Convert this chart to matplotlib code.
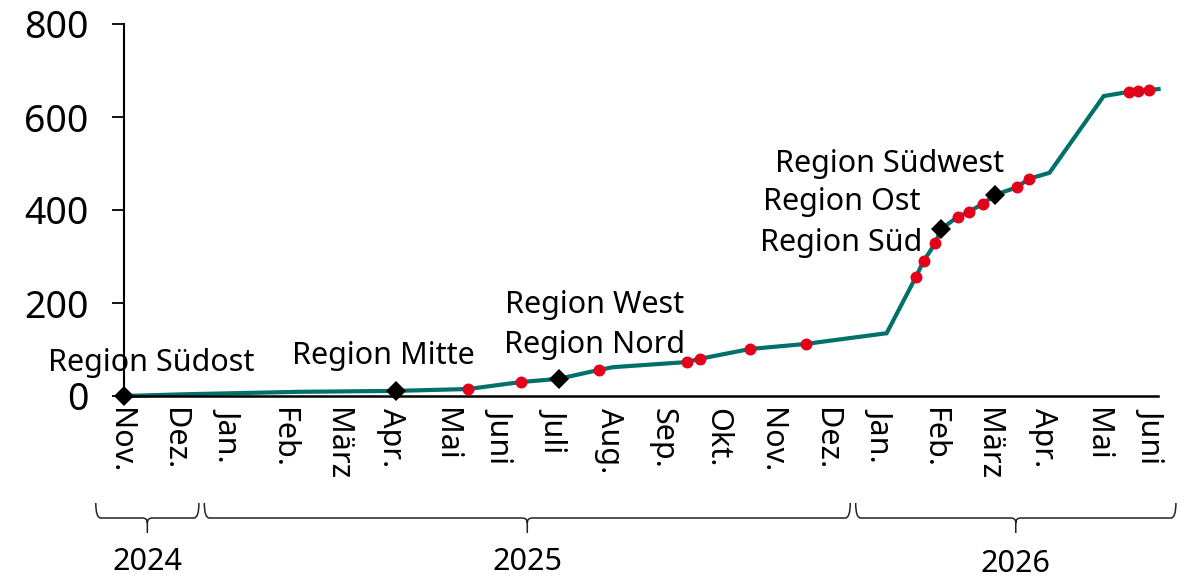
import matplotlib
matplotlib.use("Agg")
import matplotlib.pyplot as plt
from matplotlib.path import Path
from matplotlib.patches import PathPatch
import matplotlib.transforms as mtransforms

plt.rcParams['font.family'] = ['Noto Sans', 'DejaVu Sans']

# ---------------- data ----------------
month_labels = ["Nov.", "Dez.", "Jan.", "Feb.", "März", "Apr.", "Mai", "Juni",
                "Juli", "Aug.", "Sep.", "Okt.", "Nov.", "Dez.", "Jan.", "Feb.",
                "März", "Apr.", "Mai", "Juni"]
years = ["2024", "2025", "2026"]
year_month_counts = [2, 12, 6]

# x = months since start of Nov 2024
line_x = [0.0, 1.22, 3.24, 5.01, 6.34, 7.31, 8.01, 8.75, 9.01, 10.37, 10.61,
          11.53, 12.56, 14.05, 14.59, 14.73, 14.95, 15.05, 15.36, 15.56, 15.82,
          16.04, 16.45, 16.67, 17.05, 18.05, 18.51, 18.69, 18.88, 19.06]
line_y = [0, 4, 9, 11, 15, 30, 37, 56, 62, 73, 80,
          101, 112, 135, 256, 290, 329, 359, 385, 396, 413,
          432, 449, 467, 480, 645, 654, 656, 658, 660]

red_x = [6.34, 7.31, 8.75, 10.37, 10.61, 11.53, 12.56, 14.59, 14.73, 14.95,
         15.36, 15.56, 15.82, 16.45, 16.67, 18.51, 18.69, 18.88]
red_y = [15, 30, 56, 73, 80, 101, 112, 256, 290, 329,
         385, 396, 413, 449, 467, 654, 656, 658]

dia_x = [0.0, 5.01, 8.01, 15.05, 16.04]
dia_y = [0, 11, 37, 359, 432]

region_labels = ["Region Südost", "Region Mitte", "Region West", "Region Nord",
                 "Region Südwest", "Region Ost", "Region Süd"]
# label anchor positions (center, baseline) in data coords
label_pos_x = [0.51, 4.77, 8.67, 8.67, 14.11, 13.22, 13.21]
label_pos_y = [54, 69, 178, 92, 482, 400, 312]

y_ticks = [0, 200, 400, 600, 800]

# ---------------- figure ----------------
W, H = 1188, 580
fig = plt.figure(figsize=(W / 100, H / 100), dpi=100)
ax = fig.add_axes([124 / W, 184 / H, 1034 / W, 372 / H])

TEAL = "#00716A"
RED = "#E3001B"

ax.plot(line_x, line_y, color=TEAL, lw=3.0, zorder=2, clip_on=False,
        solid_joinstyle="miter")
ax.plot(red_x, red_y, "o", color=RED, ms=8.6, mew=0, zorder=3, clip_on=False)
ax.plot(dia_x, dia_y, "D", color="black", ms=9.8, mew=0, zorder=4, clip_on=False)

for t, x, y in zip(region_labels, label_pos_x, label_pos_y):
    ax.text(x, y, t, ha="center", va="baseline", fontsize=22, color="black",
            clip_on=False, zorder=5)

ax.set_xlim(0, 19.05)
ax.set_ylim(0, 800)

ax.set_yticks(y_ticks)
ax.tick_params(axis="y", direction="out", length=8.6, width=1.3,
               labelsize=27, pad=17, color="black")
ax.set_xticks(range(len(month_labels)))
ax.set_xticklabels(month_labels, rotation=-90, fontsize=22)
ax.tick_params(axis="x", length=0, pad=9)

offset = mtransforms.ScaledTranslation(-4 / 100, 0, fig.dpi_scale_trans)
for lab in ax.get_xticklabels():
    lab.set_transform(lab.get_transform() + offset)

for s in ["top", "right"]:
    ax.spines[s].set_visible(False)
ax.spines["left"].set_linewidth(1.5)
ax.spines["bottom"].set_linewidth(1.8)

# ---------------- year braces ----------------
fig.canvas.draw()
to_px = lambda m: ax.transData.transform((m, 0))[0]

y_top, y_line, y_tip = H - 503, H - 518, H - 533
r = 5
year_baseline_px = [570, 570, 572]
i0 = 0
for yr, cnt, ybl in zip(years, year_month_counts, year_baseline_px):
    i1 = i0 + cnt - 1
    x0 = to_px(i0 - 0.5 + 0.05 - 0.07)
    x1 = to_px(i1 + 0.5 - 0.05 - 0.07)
    xc = (x0 + x1) / 2
    verts = [(x0, y_top), (x0, y_line), (x0 + r, y_line),
             (xc - r, y_line), (xc, y_line), (xc, y_line - r), (xc, y_tip),
             (xc, y_line - r), (xc, y_line), (xc + r, y_line),
             (x1 - r, y_line), (x1, y_line), (x1, y_top)]
    codes = [Path.MOVETO, Path.CURVE3, Path.CURVE3,
             Path.LINETO, Path.CURVE3, Path.CURVE3, Path.LINETO,
             Path.MOVETO, Path.CURVE3, Path.CURVE3,
             Path.LINETO, Path.CURVE3, Path.CURVE3]
    patch = PathPatch(Path(verts, codes), fill=False, lw=1.1, edgecolor="#222222",
                      transform=mtransforms.IdentityTransform())
    fig.add_artist(patch)
    fig.text(xc / W, (H - ybl) / H, yr, ha="center", va="baseline",
             fontsize=22, color="black")
    i0 = i1 + 1

fig.savefig("out.png", dpi=100)
